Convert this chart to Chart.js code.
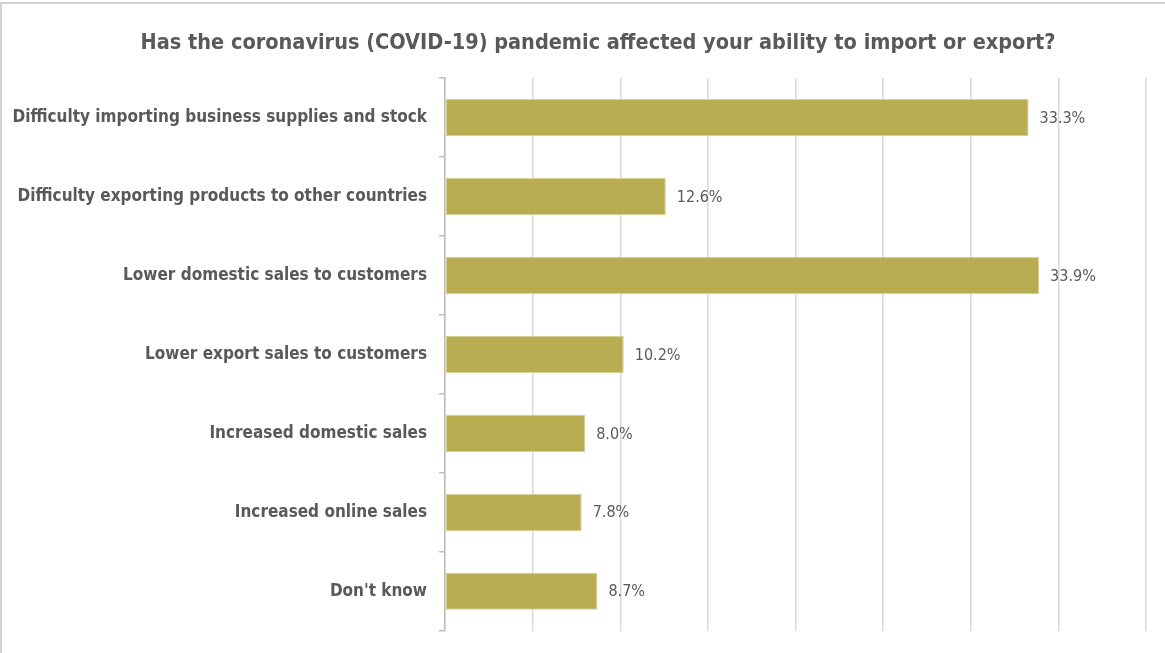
<!DOCTYPE html>
<html>
<head>
<meta charset="utf-8">
<title>COVID-19 import / export impact</title>
<script src="https://cdn.jsdelivr.net/npm/chart.js@4.4.1/dist/chart.umd.min.js"></script>
<style>
    body { margin: 0; background: #fff; }
    #wrap { position: relative; width: 1165px; height: 653px; }
    #frame {
        position: absolute; left: 0; top: 2px; right: 0; bottom: 0;
        border-top: 2px solid #d4d4d4; border-left: 2px solid #d4d4d4;
        pointer-events: none;
    }
</style>
</head>
<body>
<div id="wrap">
    <canvas id="impact-chart"></canvas>
    <div id="frame"></div>
</div>
<script>
const chartTitle = 'Has the coronavirus (COVID-19) pandemic affected your ability to import or export?';
const categories = [
    'Difficulty importing business supplies and stock',
    'Difficulty exporting products to other countries',
    'Lower domestic sales to customers',
    'Lower export sales to customers',
    'Increased domestic sales',
    'Increased online sales',
    "Don't know"
];
const shares = [33.3, 12.6, 33.9, 10.2, 8.0, 7.8, 8.7];
const axisMin = 0;
const axisMax = 40;
const axisStep = 5;

const textGrey = '#595959';
const font = "'Liberation Sans Narrow', 'Arial Narrow', 'DejaVu Sans Condensed', sans-serif";

// title sits centred over the whole picture, not just the layout box
const headline = {
    id: 'headline',
    afterDraw(chart) {
        const ctx = chart.ctx;
        ctx.save();
        ctx.font = 'bold 21.5px ' + font;
        ctx.fillStyle = textGrey;
        ctx.textAlign = 'center';
        ctx.textBaseline = 'middle';
        ctx.fillText(chartTitle, 598, 43);
        ctx.restore();
    }
};

// writes "33.3%" etc. just past the end of each bar
const valueLabels = {
    id: 'valueLabels',
    afterDatasetsDraw(chart) {
        const ctx = chart.ctx;
        const meta = chart.getDatasetMeta(0);
        ctx.save();
        ctx.font = '16px ' + font;
        ctx.fillStyle = textGrey;
        ctx.textAlign = 'left';
        ctx.textBaseline = 'middle';
        meta.data.forEach((bar, i) => {
            const v = chart.data.datasets[0].data[i];
            ctx.fillText(v.toFixed(1) + '%', bar.x + 11, bar.y + 1);
        });
        ctx.restore();
    }
};

new Chart(document.getElementById('impact-chart').getContext('2d'), {
    type: 'bar',
    data: {
        labels: categories,
        datasets: [{
            data: shares,
            backgroundColor: '#b9ad51',
            borderColor: '#d8d092',
            borderWidth: 1,
            borderSkipped: false,
            categoryPercentage: 1,
            barPercentage: 0.47
        }]
    },
    options: {
        indexAxis: 'y',
        responsive: true,
        maintainAspectRatio: false,
        animation: false,
        layout: { padding: { left: 0, right: 19, top: 78, bottom: 22 } },
        plugins: {
            legend: { display: false },
            tooltip: { enabled: false },
            title: { display: false }
        },
        scales: {
            x: {
                min: axisMin,
                max: axisMax,
                ticks: { display: false, stepSize: axisStep },
                grid: { color: '#d9d9d9', lineWidth: 1.5, drawTicks: false },
                border: { display: false },
                afterFit(scale) { scale.height = 0; }
            },
            y: {
                ticks: {
                    color: textGrey,
                    font: { family: font, size: 17, weight: 'bold' },
                    padding: 12
                },
                grid: {
                    drawOnChartArea: false,
                    drawTicks: true,
                    tickLength: 6,
                    color: '#bfbfbf',
                    lineWidth: 1.5
                },
                border: { color: '#bfbfbf', width: 1.5 },
                afterFit(scale) { scale.width = 445; }
            }
        }
    },
    plugins: [valueLabels, headline]
});
</script>
</body>
</html>
